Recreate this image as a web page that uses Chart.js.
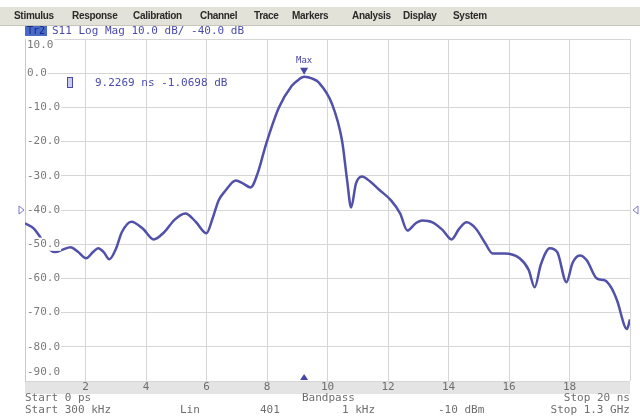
<!DOCTYPE html>
<html>
<head>
<meta charset="utf-8">
<script src="https://cdn.jsdelivr.net/npm/chart.js@4.4.1/dist/chart.umd.min.js"></script>
<style>
  body { margin: 0; width: 640px; height: 420px; overflow: hidden; background: #fff; position: relative; }
  #chart { position: absolute; left: 0; top: 0; }
  .menu { position: absolute; left: 0; top: 7px; width: 640px; height: 18px; background: #e2e2d8; border-bottom: 1px solid #c6c6bc; }
  .menu span { position: absolute; top: 3px; font: bold 10px "Liberation Sans", Arial, sans-serif; color: #2a2a2a; white-space: nowrap; letter-spacing: -0.3px; }
  .txt { position: absolute; font: 11px "DejaVu Sans Mono", monospace; line-height: 12px; white-space: pre; }
  .blue { color: #4a4aae; }
  .grey { color: #6e6e6e; }
  .tr { left: 25px; top: 26px; width: 22px; height: 10px; background: #4b69c8; color: #152a78; font-size: 10px; line-height: 10px; text-align: center; }
  .mk { left: 67px; top: 77px; width: 4px; height: 9px; border: 1px solid #4a4aae; background: #c8ccf0; }
</style>
</head>
<body>
<canvas id="chart" width="640" height="420"></canvas>
<div class="menu">
  <span style="left:14px">Stimulus</span>
  <span style="left:72px">Response</span>
  <span style="left:133px">Calibration</span>
  <span style="left:200px">Channel</span>
  <span style="left:254px">Trace</span>
  <span style="left:292px">Markers</span>
  <span style="left:352px">Analysis</span>
  <span style="left:403px">Display</span>
  <span style="left:453px">System</span>
</div>
<div class="txt tr">Tr2</div>
<div class="txt blue" style="left:52px; top:25px">S11 Log Mag 10.0 dB/ -40.0 dB</div>
<div class="txt mk"></div>
<div class="txt blue" style="left:95px; top:77px">9.2269 ns -1.0698 dB</div>
<div class="txt grey" style="left:25px; top:392px">Start 0 ps</div>
<div class="txt grey" style="left:302px; top:392px">Bandpass</div>
<div class="txt grey" style="right:10px; top:392px">Stop 20 ns</div>
<div class="txt grey" style="left:25px; top:404px">Start 300 kHz</div>
<div class="txt grey" style="left:180px; top:404px">Lin</div>
<div class="txt grey" style="left:260px; top:404px">401</div>
<div class="txt grey" style="left:342px; top:404px">1 kHz</div>
<div class="txt grey" style="left:438px; top:404px">-10 dBm</div>
<div class="txt grey" style="right:10px; top:404px">Stop 1.3 GHz</div>
<script>
// time domain trace
const timeNs = [0.0, 0.3, 0.55, 0.8, 1.0, 1.25, 1.5, 1.75, 2.02, 2.25, 2.42, 2.6, 2.79, 3.0, 3.2, 3.52, 3.9, 4.25, 4.6, 4.95,
  5.3, 5.65, 6.0, 6.2, 6.4, 6.63, 6.97, 7.2, 7.46, 7.7, 7.96, 8.39, 8.82, 9.0, 9.23, 9.5, 9.72, 10.15, 10.48, 10.65, 10.78, 10.94,
  11.14, 11.4, 11.7, 12.1, 12.4, 12.64, 12.9, 13.13, 13.47, 13.8, 14.1, 14.35, 14.6, 14.9, 15.2, 15.46, 15.85, 16.35, 16.65, 16.85,
  17.05, 17.35, 17.6, 17.9, 18.1, 18.34, 18.57, 18.9, 19.17, 19.4, 19.57, 19.9, 20.0];
const s11Db = [-43.9, -45.5, -48.5, -51.5, -52.3, -51.6, -50.9, -52.2, -54.1, -52.3, -51.2, -52.3, -54.4, -51.5, -46.5, -43.4, -45.5, -48.6, -46.5, -42.8,
  -41.0, -43.5, -46.8, -42.5, -37.2, -34.3, -31.4, -32.2, -33.4, -29.0, -21.0, -10.1, -3.7, -2.2, -1.07, -1.6, -2.8, -9.0, -19.7, -31.4, -39.3, -32.3,
  -30.2, -31.6, -34.0, -37.2, -41.0, -46.0, -44.0, -43.1, -43.6, -45.8, -48.6, -45.5, -43.6, -45.4, -49.5, -52.7, -52.7, -54.1, -57.5, -62.6,
  -56.0, -51.2, -52.4, -61.1, -55.5, -53.3, -54.7, -60.0, -60.6, -63.0, -66.4, -74.8, -72.0];

const xTicks = [2, 4, 6, 8, 10, 12, 14, 16, 18];
const yMin = -90;
const yMax = 10;
const markerNs = 9.2269;
const markerDb = -1.0698;
const refLevelDb = -40;

const monoFont = '"DejaVu Sans Mono", monospace';

const markerPlugin = {
  id: 'markers',
  afterDraw(chart) {
    const { ctx, scales: { x, y } } = chart;
    const px = x.getPixelForValue(markerNs);
    const py = y.getPixelForValue(markerDb);
    ctx.save();
    ctx.fillStyle = '#4646a8';
    ctx.beginPath();
    ctx.moveTo(px - 4, py - 9);
    ctx.lineTo(px + 4, py - 9);
    ctx.lineTo(px, py - 2);
    ctx.fill();
    ctx.font = '9px ' + monoFont;
    ctx.textAlign = 'center';
    ctx.textBaseline = 'middle';
    ctx.fillText('Max', px, py - 16);
    // marker position on the stimulus axis
    ctx.beginPath();
    ctx.moveTo(px - 4, y.bottom - 1);
    ctx.lineTo(px + 4, y.bottom - 1);
    ctx.lineTo(px, y.bottom - 7);
    ctx.fill();
    // reference level arrows
    const ry = y.getPixelForValue(refLevelDb);
    ctx.strokeStyle = '#7878c8';
    ctx.lineWidth = 1;
    ctx.beginPath();
    ctx.moveTo(x.left - 6, ry - 4);
    ctx.lineTo(x.left - 1, ry);
    ctx.lineTo(x.left - 6, ry + 4);
    ctx.closePath();
    ctx.stroke();
    ctx.beginPath();
    ctx.moveTo(x.right + 8, ry - 4);
    ctx.lineTo(x.right + 3, ry);
    ctx.lineTo(x.right + 8, ry + 4);
    ctx.closePath();
    ctx.stroke();
    ctx.restore();
  }
};

const yTickStyle = {
  mirror: true,
  padding: 2,
  z: 1,
  color: '#7a7a7a',
  font: { family: monoFont, size: 11 },
  showLabelBackdrop: true,
  backdropPadding: { x: 1, y: 0 },
  callback: (v) => v.toFixed(1)
};

// the edge labels sit inside the grid, so they get their own label-only axes
function edgeAxis(value, offset) {
  return {
    type: 'linear',
    position: 'left',
    min: yMin,
    max: yMax,
    afterBuildTicks: (scale) => { scale.ticks = [{ value: value }]; },
    afterFit: (scale) => { scale.width = 0; },
    grid: { display: false },
    border: { display: false },
    ticks: Object.assign({}, yTickStyle, { labelOffset: offset, backdropColor: '#ffffff' })
  };
}

new Chart(document.getElementById('chart'), {
  type: 'line',
  data: {
    datasets: [{
      data: timeNs.map((t, i) => ({ x: t, y: s11Db[i] })),
      borderColor: '#5151a9',
      borderWidth: 2.5,
      pointRadius: 0,
      cubicInterpolationMode: 'monotone',
      fill: false
    }]
  },
  options: {
    responsive: false,
    animation: false,
    layout: { padding: { left: 25, right: 10, top: 39, bottom: 26 } },
    plugins: { legend: { display: false }, tooltip: { enabled: false } },
    scales: {
      x: {
        type: 'linear',
        min: 0,
        max: 20,
        backgroundColor: '#e4e4e4',
        afterBuildTicks: (scale) => { scale.ticks = [0, ...xTicks, 20].map(v => ({ value: v })); },
        afterFit: (scale) => { scale.height = 13; },
        grid: { color: '#d6d6d6', drawTicks: false },
        border: { display: false },
        ticks: {
          padding: 0,
          color: '#6e6e6e',
          font: { family: monoFont, size: 11 },
          callback: (v) => (xTicks.includes(v) ? String(v) : '')
        }
      },
      y: {
        type: 'linear',
        min: yMin,
        max: yMax,
        afterFit: (scale) => { scale.width = 0; },
        grid: { color: '#d6d6d6', drawTicks: false },
        border: { display: true, color: '#c8c8c8' },
        ticks: Object.assign({}, yTickStyle, {
          stepSize: 10,
          backdropColor: (c) => (c.tick && (c.tick.value === yMax || c.tick.value === yMin) ? 'rgba(0,0,0,0)' : '#ffffff'),
          callback: (v) => (v === yMax || v === yMin ? '' : v.toFixed(1))
        })
      },
      yTop: edgeAxis(yMax, 6),
      yBottom: edgeAxis(yMin, -9)
    }
  },
  plugins: [markerPlugin]
});
</script>
</body>
</html>
